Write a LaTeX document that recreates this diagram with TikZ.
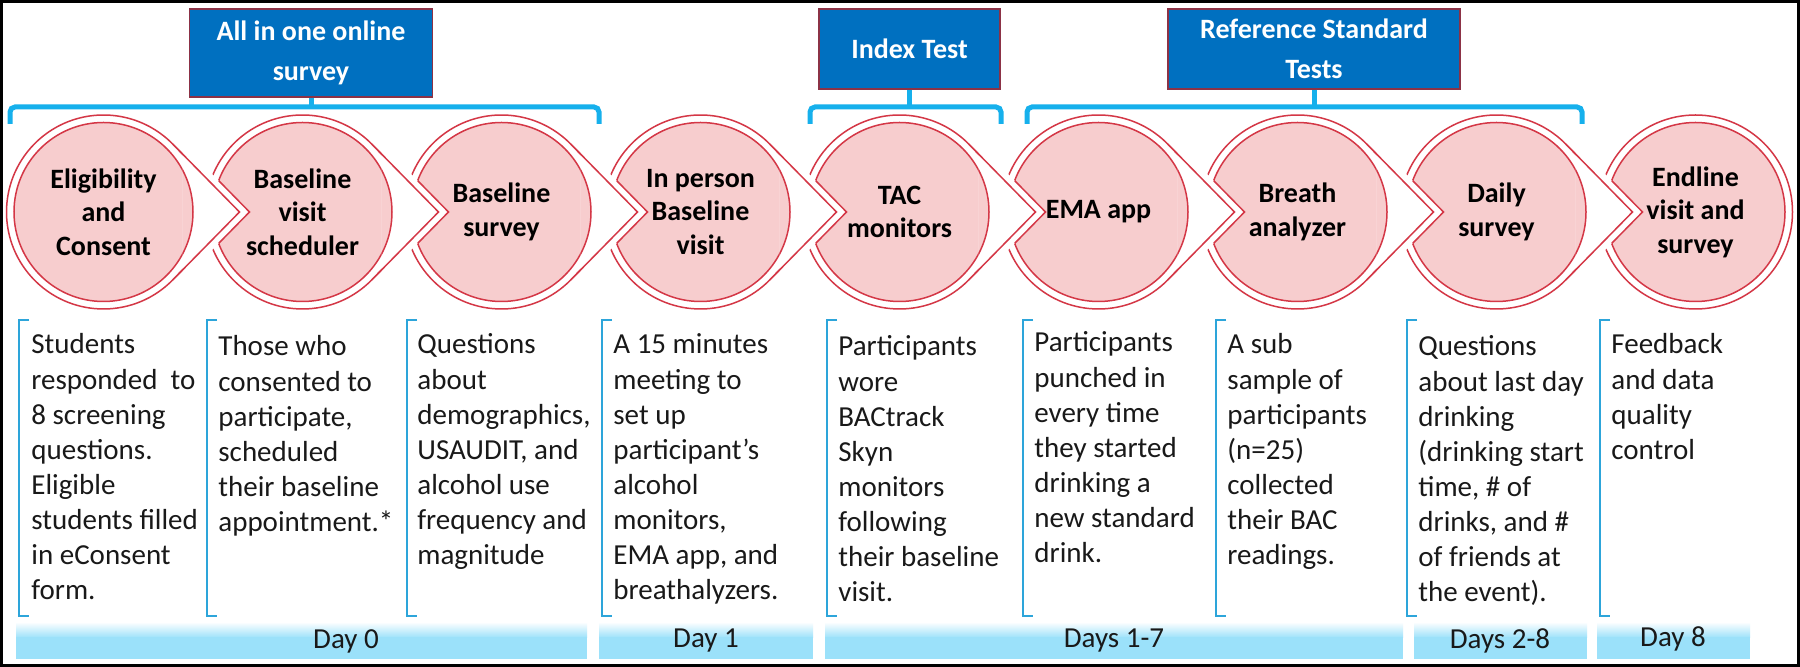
\documentclass[tikz,border=0pt]{standalone}
\usepackage{fontspec}
\setmainfont{Carlito}
\usetikzlibrary{calc}
\definecolor{boxblue}{RGB}{0,112,192}
\definecolor{boxedge}{RGB}{140,50,70}
\definecolor{brblue}{RGB}{22,176,236}
\definecolor{colblue}{RGB}{45,165,218}
\definecolor{cpink}{RGB}{247,205,206}
\definecolor{cred}{RGB}{212,55,70}
\definecolor{barblue}{RGB}{155,225,250}
\definecolor{txt}{RGB}{25,25,25}
\newcommand\bodyfnt{\fontsize{14.5}{17.55}\selectfont}
\newcommand\ttlfnt{\fontsize{14}{16.75}\selectfont\bfseries}
\newcommand\boxfnt{\fontsize{14}{19.75}\selectfont\bfseries}
\newcommand\dayfnt{\fontsize{14.5}{17}\selectfont}
\begin{document}
\begin{tikzpicture}[x=0.5pt,y=-0.5pt,
  topbox/.style={draw=boxedge, line width=0.6pt, fill=boxblue, text=white, font=\boxfnt, align=center, inner sep=0pt},
  brk/.style={draw=brblue, line width=2.5pt, rounded corners=2.5pt},
  colbrk/.style={draw=colblue, line width=0.9pt},
  ring/.style={draw=cred, line width=0.75pt},
  ttl/.style={font=\ttlfnt, align=center, text=black, inner sep=0pt},
  body/.style={font=\bodyfnt, align=left, text=txt, inner sep=0pt, anchor=north west},
  daytxt/.style={font=\dayfnt, text=txt, inner sep=0pt},
]
\useasboundingbox (0,0) rectangle (1800,667);
\fill[white] (0,0) rectangle (1800,667);

% ---- top boxes ----
\node[topbox, minimum width=121.5pt, minimum height=44pt] (b1) at (311,53) {All in one online\\survey};
\node[topbox, minimum width=90.5pt, minimum height=40pt] (b2) at (909.5,49) {Index Test};
\node[topbox, minimum width=146pt, minimum height=40pt] (b3) at (1314,49) {Reference Standard\\Tests};

% ---- top brackets ----
\draw[brk] (10,124) -- (10,107) -- (599,107) -- (599,124);
\draw[brk] (b1.south) -- (b1.south |- 0,107);
\draw[brk] (810,124) -- (810,107) -- (1001,107) -- (1001,124);
\draw[brk] (b2.south) -- (b2.south |- 0,107);
\draw[brk] (1027,124) -- (1027,107) -- (1582,107) -- (1582,124);
\draw[brk] (b3.south) -- (b3.south |- 0,107);

% ---- circle arrows ----
\foreach \i in {1,...,9} { \coordinate (cc\i) at ({103.5+199*(\i-1)},212); }
\foreach \i in {1,...,8} {
  \draw[ring] ($(cc\i)+(136,0)$) -- ($(cc\i)+(44.5:97)$) arc[start angle=44.5, end angle=315.5, radius=97] -- cycle;
}
\draw[ring] (cc9) circle[radius=97];
\foreach \i in {1,...,8} {
  \begin{scope}
    \clip ($(cc\i)+(44.5:97)$) -- ($(cc\i)+(136,0)$) -- ($(cc\i)+(-44.5:97)$) -- cycle;
    \fill[white, even odd rule] ($(cc\i)+(44.5:97)$) -- ($(cc\i)+(136,0)$) -- ($(cc\i)+(-44.5:97)$) -- cycle (cc\i) circle[radius=97.5];
  \end{scope}
}
\foreach \i in {1,...,9} { \filldraw[fill=cpink, ring] (cc\i) circle[radius=89.5]; }
\foreach \i in {1,...,8} {
  \pgfmathtruncatemacro\nxt{\i+1}
  \begin{scope}
    \clip ($(cc\i)+(44.5:97)+(10,0)$) -- ($(cc\i)+(146,0)$) -- ($(cc\i)+(-44.5:97)+(10,0)$) -- cycle;
    \fill[white, even odd rule] ($(cc\i)+(44.5:97)+(10,0)$) -- ($(cc\i)+(146,0)$) -- ($(cc\i)+(-44.5:97)+(10,0)$) -- cycle (cc\i) circle[radius=91];
  \end{scope}
  \draw[ring] ($(cc\i)+(44.5:97)$) -- ($(cc\i)+(136,0)$) -- ($(cc\i)+(-44.5:97)$);
  \begin{scope}
    \clip (cc\nxt) circle[radius=89.5];
    \draw[ring] ($(cc\i)+(44.5:97)+(10,0)$) -- ($(cc\i)+(146,0)$) -- ($(cc\i)+(-44.5:97)+(10,0)$);
  \end{scope}
}

\node[ttl] (c1) at (cc1) {Eligibility\\and\\Consent};
\node[ttl] (c2) at (cc2) {Baseline\\visit\\scheduler};
\node[ttl] (c3) at (cc3) {Baseline\\survey};
\node[ttl] (c4) at (cc4) {In person\\Baseline\\visit};
\node[ttl] (c5) at (cc5) {TAC\\monitors};
\node[ttl] (c6) at (cc6) {EMA app};
\node[ttl] (c7) at (cc7) {Breath\\analyzer};
\node[ttl] (c8) at (cc8) {Daily\\survey};
\node[ttl] (c9) at (cc9) {Endline\\visit and\\survey};

% ---- text columns ----
\foreach \x in {19,207,407,602,827,1023,1216,1407,1600} {
  \draw[colbrk] (\x+10,320) -- (\x,320) -- (\x,616) -- (\x+10,616);
}
\node[body] (t1) at (31,329) {\strut Students\\responded\ \ to\\8 screening\\questions.\\Eligible\\students filled\\in eConsent\\form.};
\node[body] (t2) at (218,331) {\strut Those who\\consented to\\participate,\\scheduled\\their baseline\\appointment.*};
\node[body] (t3) at (417,329) {\strut Questions\\about\\demographics,\\USAUDIT, and\\alcohol use\\frequency and\\magnitude};
\node[body] (t4) at (613,329) {\strut A 15 minutes\\meeting to\\set up\\participant’s\\alcohol\\monitors,\\EMA app, and\\breathalyzers.};
\node[body] (t5) at (838,331) {\strut Participants\\wore\\BACtrack\\Skyn\\monitors\\following\\their baseline\\visit.};
\node[body] (t6) at (1034,327) {\strut Participants\\punched in\\every time\\they started\\drinking a\\new standard\\drink.};
\node[body] (t7) at (1227,329) {\strut A sub\\sample of\\participants\\(n=25)\\collected\\their BAC\\readings.};
\node[body] (t8) at (1418,331) {\strut Questions\\about last day\\drinking\\(drinking start\\time, \# of\\drinks, and \#\\of friends at\\the event).};
\node[body] (t9) at (1611,329) {\strut Feedback\\and data\\quality\\control};

% ---- day bars ----
\foreach \a/\b in {16/587,599/813,825/1403,1414/1587,1597/1750} {
  \shade[top color=white, bottom color=barblue] (\a,622) rectangle (\b,638);
  \fill[barblue] (\a,637.5) rectangle (\b,659);
}
\node[daytxt] (d0) at (346,641) {Day 0};
\node[daytxt] (d1) at (706,641) {Day 1};
\node[daytxt] (d2) at (1114,641) {Days 1-7};
\node[daytxt] (d3) at (1500,641) {Days 2-8};
\node[daytxt] (d4) at (1673,639) {Day 8};

% ---- frame ----
\draw[line width=1.5pt] (1.5,1.5) rectangle (1798.5,665.5);
\end{tikzpicture}
\end{document}
